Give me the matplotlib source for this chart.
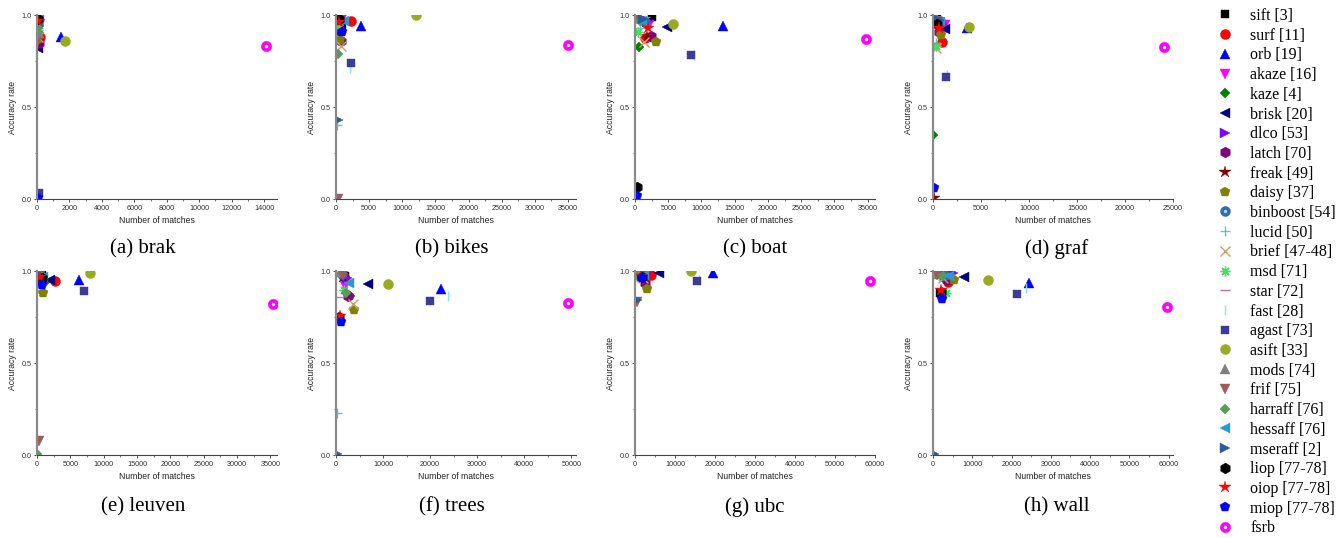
import matplotlib
matplotlib.use("Agg")
import matplotlib.pyplot as plt
from matplotlib.lines import Line2D
from matplotlib.ticker import MultipleLocator, FormatStrFormatter

plt.rcParams['font.family'] = ['Liberation Sans', 'DejaVu Sans']

methods = ["sift [3]", "surf [11]", "orb [19]", "akaze [16]", "kaze [4]", "brisk [20]",
           "dlco [53]", "latch [70]", "freak [49]", "daisy [37]", "binboost [54]",
           "lucid [50]", "brief [47-48]", "msd [71]", "star [72]", "fast [28]",
           "agast [73]", "asift [33]", "mods [74]", "frif [75]", "harraff [76]",
           "hessaff [76]", "mseraff [2]", "liop [77-78]", "oiop [77-78]",
           "miop [77-78]", "fsrb"]

captions = ["(a) brak", "(b) bikes", "(c) boat", "(d) graf",
            "(e) leuven", "(f) trees", "(g) ubc", "(h) wall"]

# values per method, in legend order
brak_matches = [150, 200, 1500, 180, 100, 80, 120, 100, 60, 90, 50, 40, 80, 60, 50, 120,
                100, 1700, 150, 30, 60, 120, 50, 80, 60, 50, 14150]
brak_acc = [0.99, 0.88, 0.88, 0.95, 0.90, 0.82, 0.94, 0.85, 0.86, 0.87, 0.95, 0.90, 0.88,
            0.92, 0.93, 0.97, 0.03, 0.86, 0.90, 0.85, 0.93, 0.99, 0.96, 0.98, 0.97, 0.005, 0.83]

bikes_matches = [600, 2300, 3750, 1100, 400, 700, 500, 700, 300, 550, 400, 200, 700, 400,
                 300, 2100, 2300, 12000, 400, 300, 300, 1200, 350, 500, 400, 900, 35000]
bikes_acc = [0.99, 0.97, 0.94, 0.99, 0.92, 0.94, 0.95, 0.86, 0.90, 0.865, 0.96, 0.40, 0.83,
             0.93, 0.97, 0.71, 0.74, 1.0, 0.99, 0.0, 0.79, 0.97, 0.43, 0.98, 0.96, 0.91, 0.837]

boat_matches = [2500, 1500, 13300, 2150, 600, 4750, 2000, 2400, 1800, 3100, 1500, 800, 1300,
                400, 1500, 8850, 8400, 5750, 300, 300, 800, 1000, 1200, 250, 1900, 250, 34700]
boat_acc = [0.99, 0.873, 0.942, 0.946, 0.825, 0.937, 0.97, 0.886, 0.88, 0.852, 0.96, 0.93,
            0.855, 0.905, 0.99, 0.783, 0.783, 0.951, 0.995, 0.98, 0.97, 0.965, 0.98, 0.065,
            0.93, 0.015, 0.868]

graf_matches = [400, 970, 3500, 1200, 50, 1250, 900, 620, 100, 800, 700, 300, 350, 300, 200,
                1450, 1350, 3800, 350, 300, 500, 700, 600, 400, 600, 150, 24100]
graf_acc = [0.98, 0.855, 0.928, 0.946, 0.35, 0.922, 0.95, 0.905, 0.003, 0.89, 0.97, 0.85,
            0.82, 0.83, 0.85, 0.675, 0.662, 0.933, 0.987, 0.97, 0.96, 0.964, 0.975, 0.95,
            0.93, 0.06, 0.826]

leuven_matches = [700, 2650, 6300, 400, 1200, 2000, 500, 800, 600, 900, 500, 300, 600, 500,
                  300, 800, 7050, 7900, 400, 350, 50, 900, 500, 700, 500, 750, 35400]
leuven_acc = [0.99, 0.946, 0.953, 0.98, 0.94, 0.95, 0.97, 0.95, 0.96, 0.88, 0.98, 0.97, 0.95,
              0.96, 0.97, 0.96, 0.891, 0.99, 0.99, 0.076, 0.005, 0.97, 0.98, 0.96, 0.97,
              0.922, 0.819]

trees_matches = [2000, 1800, 22300, 1950, 3000, 6800, 2300, 2450, 1500, 3750, 1200, 300, 3700,
                 1800, 600, 23900, 20000, 11000, 900, 1500, 2200, 2700, 200, 700, 850, 1150,
                 49300]
trees_acc = [0.975, 0.965, 0.904, 0.917, 0.865, 0.928, 0.96, 0.864, 0.97, 0.79, 0.985, 0.23,
             0.82, 0.895, 0.86, 0.862, 0.837, 0.931, 0.995, 0.98, 0.88, 0.937, 0.005, 0.75,
             0.756, 0.723, 0.826]

ubc_matches = [1500, 4000, 19600, 2000, 700, 6100, 3000, 2500, 1500, 2900, 1800, 600, 2000,
               1000, 800, 16000, 15600, 14000, 500, 400, 800, 2200, 500, 1800, 1600, 1830,
               58750]
ubc_acc = [0.99, 0.98, 0.989, 0.985, 0.975, 0.989, 0.985, 0.937, 0.97, 0.904, 0.98, 0.97,
           0.96, 0.975, 0.98, 0.95, 0.944, 1.0, 0.995, 0.83, 0.975, 0.98, 0.84, 0.97, 0.975,
           0.964, 0.944]

wall_matches = [1800, 3900, 24400, 4500, 2200, 7800, 5000, 3500, 2500, 5400, 3000, 1500, 2500,
                3300, 1200, 23600, 21400, 14000, 1200, 1000, 2500, 4200, 300, 2000, 2050, 2300,
                59500]
wall_acc = [0.882, 0.94, 0.937, 0.985, 0.97, 0.967, 0.99, 0.95, 0.99, 0.949, 0.98, 0.97, 0.96,
            0.88, 0.985, 0.91, 0.873, 0.949, 0.985, 0.98, 0.975, 0.973, 0.005, 0.885, 0.895,
            0.846, 0.805]

x_max = [14800, 36200, 36100, 25000, 36000, 51000, 60000, 61100]
x_step = [2000, 5000, 5000, 5000, 5000, 10000, 10000, 10000]

datasets = [(brak_matches, brak_acc), (bikes_matches, bikes_acc), (boat_matches, boat_acc),
            (graf_matches, graf_acc), (leuven_matches, leuven_acc),
            (trees_matches, trees_acc), (ubc_matches, ubc_acc), (wall_matches, wall_acc)]

# marker styles
markers = ['s', 'o', '^', 'v', 'D', '<', '>', 'h', '*', 'p', 'o', '+', 'x', (8, 2, 0), '_',
           '|', 's', 'o', '^', 'v', 'D', '<', '>', 'h', '*', 'p', 'o']
colors = ['#000000', '#ff0000', '#0000ff', '#ff00ff', '#008000', '#000080', '#8000ff',
          '#800080', '#800000', '#808000', '#2f6cb0', '#5cc8c8', '#c8a070', '#40e060',
          '#d070a0', '#80e8f0', '#3c3c96', '#99aa22', '#808080', '#a05a5a', '#5a9a5a',
          '#2a9ad0', '#2a5a9a', '#000000', '#ff0000', '#0000ff', '#ff00ff']
sizes = [5.8, 7.2, 7.5, 7.5, 5.2, 7.5, 7.5, 7.8, 8.8, 7.8, 7.2, 7, 7, 7, 7, 7,
         5.8, 7.2, 7.5, 7.5, 5.2, 7.5, 7.5, 7.8, 8.8, 7.8, 7.5]
sphere = {10: '#b8d8f8', 26: '#ffffff'}

W, H = 1336, 538
fig = plt.figure(figsize=(W / 100, H / 100), dpi=100)

col_left = [37, 336, 635, 933]
row_top = [15, 271]
cap_x = [143, 452, 755, 1057]
cap_y = [249, 507]
aw, ah = 240, 184

for i, (mx, acc) in enumerate(datasets):
    r, c = divmod(i, 4)
    left, top = col_left[c], row_top[r]
    ax = fig.add_axes([left / W, 1 - (top + ah) / H, aw / W, ah / H])
    for k in range(len(methods)):
        lw = 1.0 if markers[k] in ('+', 'x', '_', '|') or isinstance(markers[k], tuple) else 0
        ax.plot([mx[k]], [acc[k]], linestyle='none', marker=markers[k], color=colors[k],
                markersize=sizes[k], markeredgewidth=lw if lw else 0.3)
        if k in sphere:
            ax.plot([mx[k]], [acc[k]], linestyle='none', marker='o', color=sphere[k],
                    markersize=2.4, markeredgewidth=0)
    ax.set_xlim(0, x_max[i])
    ax.set_ylim(0, 1)
    ax.xaxis.set_major_locator(MultipleLocator(x_step[i]))
    ax.xaxis.set_minor_locator(MultipleLocator(x_step[i] / 2))
    ax.yaxis.set_major_locator(MultipleLocator(0.5))
    ax.yaxis.set_minor_locator(MultipleLocator(0.25))
    ax.yaxis.set_major_formatter(FormatStrFormatter('%.1f'))
    ax.spines['top'].set_visible(False)
    ax.spines['right'].set_visible(False)
    ax.spines['left'].set_color('#8a8a8a')
    ax.spines['left'].set_linewidth(1.6)
    ax.spines['bottom'].set_color('#444444')
    ax.spines['bottom'].set_linewidth(0.8)
    ax.tick_params(which='major', direction='out', length=2.5, width=0.6, labelsize=5.2,
                   pad=1.5, colors='#333333')
    ax.tick_params(which='minor', direction='out', length=1.5, width=0.5, colors='#333333')
    ax.set_xlabel('Number of matches', fontsize=6.2, labelpad=3, color='#222222')
    ax.set_ylabel('Accuracy rate', fontsize=6.2, labelpad=3, color='#222222')
    fig.text(cap_x[c] / W, 1 - cap_y[r] / H, captions[i], ha='center', va='center',
             fontsize=15, family=['Liberation Serif', 'DejaVu Serif'])

handles = []
for k in range(len(methods)):
    lw = 1.0 if markers[k] in ('+', 'x', '_', '|') or isinstance(markers[k], tuple) else 0.3
    h = Line2D([], [], linestyle='none', marker=markers[k], color=colors[k],
               markersize=sizes[k], markeredgewidth=lw)
    if k in sphere:
        h = (h, Line2D([], [], linestyle='none', marker='o', color=sphere[k],
                       markersize=2.4, markeredgewidth=0))
    handles.append(h)

fig.legend(handles, methods, loc='upper left', bbox_to_anchor=(1215 / W, 1 - 8 / H),
           frameon=False, prop={'family': ['Liberation Serif', 'DejaVu Serif'], 'size': 11.5},
           handlelength=1.3, handletextpad=0.9, labelspacing=0.232, borderpad=0,
           borderaxespad=0)

fig.savefig('out.png', dpi=100)
